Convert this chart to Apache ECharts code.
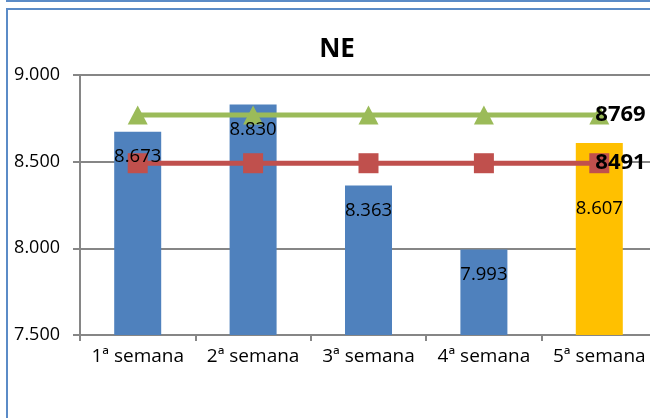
<!DOCTYPE html>
<html><head><meta charset="utf-8">
<script src="https://cdn.jsdelivr.net/npm/echarts@6/dist/echarts.min.js"></script>
<style>html,body{margin:0;padding:0;background:#fff}#c{width:650px;height:418px}</style>
</head><body><div id="c"></div>
<script>
var categories = ['1ª semana','2ª semana','3ª semana','4ª semana','5ª semana'];
var weekValues = [8673, 8830, 8363, 7993, 8607];
var greenLine = [8769, 8769, 8769, 8769, 8769];
var redLine = [8491, 8491, 8491, 8491, 8491];
var yTicks = [7500, 8000, 8500, 9000];
var chartTitle = 'NE';

function fmt(v){
  var s = String(Math.round(v));
  return s.replace(/\B(?=(\d{3})+(?!\d))/g, '.');
}
var FONT = 'Open Sans';
var chart = echarts.init(document.getElementById('c'), null, {renderer:'canvas'});
var barData = weekValues.map(function(v,i){
  return {value:v, itemStyle:{color: i===4 ? '#FFC000' : '#4F81BD'}};
});
var labelData = weekValues.map(function(v,i){
  return i===4 ? {value:v, label:{distance:56}} : v;
});
function endLabel(){
  return {
    show:true,
    formatter:function(p){ return p.dataIndex===4 ? String(p.value) : ''; },
    position:'right', distance:-14,
    fontFamily:FONT, fontWeight:'bold', fontSize:22, color:'#000'
  };
}
chart.setOption({
  animation:false,
  backgroundColor:'#fff',
  title:{text:chartTitle, left:332, top:32, textAlign:'center',
    textStyle:{fontFamily:FONT, fontWeight:'bold', fontSize:26, color:'#000'}},
  graphic:[
    {type:'line', shape:{x1:6, y1:1, x2:650, y2:1}, style:{stroke:'#5B8BC7', lineWidth:2}, silent:true},
    {type:'rect', shape:{x:7, y:9, width:700, height:500}, style:{fill:'none', stroke:'#5B8BC7', lineWidth:2}, silent:true}
  ],
  grid:{left:80, top:75, width:577, height:260, containLabel:false, outerBoundsMode:'none'},
  xAxis:{type:'category', data:categories,
    axisLine:{lineStyle:{color:'#868686', width:2}},
    axisTick:{show:true, length:6, lineStyle:{color:'#868686', width:2}},
    axisLabel:{fontFamily:FONT, fontSize:19, color:'#000', margin:12, interval:0, hideOverlap:false}
  },
  yAxis:{type:'value', min:yTicks[0], max:yTicks[yTicks.length-1], interval:500,
    axisLine:{show:true, lineStyle:{color:'#868686', width:2}},
    axisTick:{show:true, length:7, lineStyle:{color:'#868686', width:2}},
    splitLine:{lineStyle:{color:'#868686', width:2}},
    axisLabel:{fontFamily:FONT, fontSize:18, color:'#000', margin:20, formatter:fmt}
  },
  series:[
    {type:'bar', data:barData, barWidth:47, z:1},
    {type:'line', data:greenLine, symbol:'triangle', symbolSize:[20,19], z:3,
      lineStyle:{color:'#9BBB59', width:5}, itemStyle:{color:'#9BBB59'}, label:endLabel()},
    {type:'line', data:redLine, symbol:'rect', symbolSize:20, z:3,
      lineStyle:{color:'#C0504D', width:5}, itemStyle:{color:'#C0504D'}, label:endLabel()},
    {type:'bar', data:labelData, barWidth:47, barGap:'-100%', z:10, silent:true,
      itemStyle:{color:'rgba(0,0,0,0)'},
      label:{show:true, position:'insideTop', distance:16, fontFamily:FONT, fontSize:18.5, color:'#000',
        formatter:function(p){return fmt(p.value);}}}
  ]
});
</script></body></html>
